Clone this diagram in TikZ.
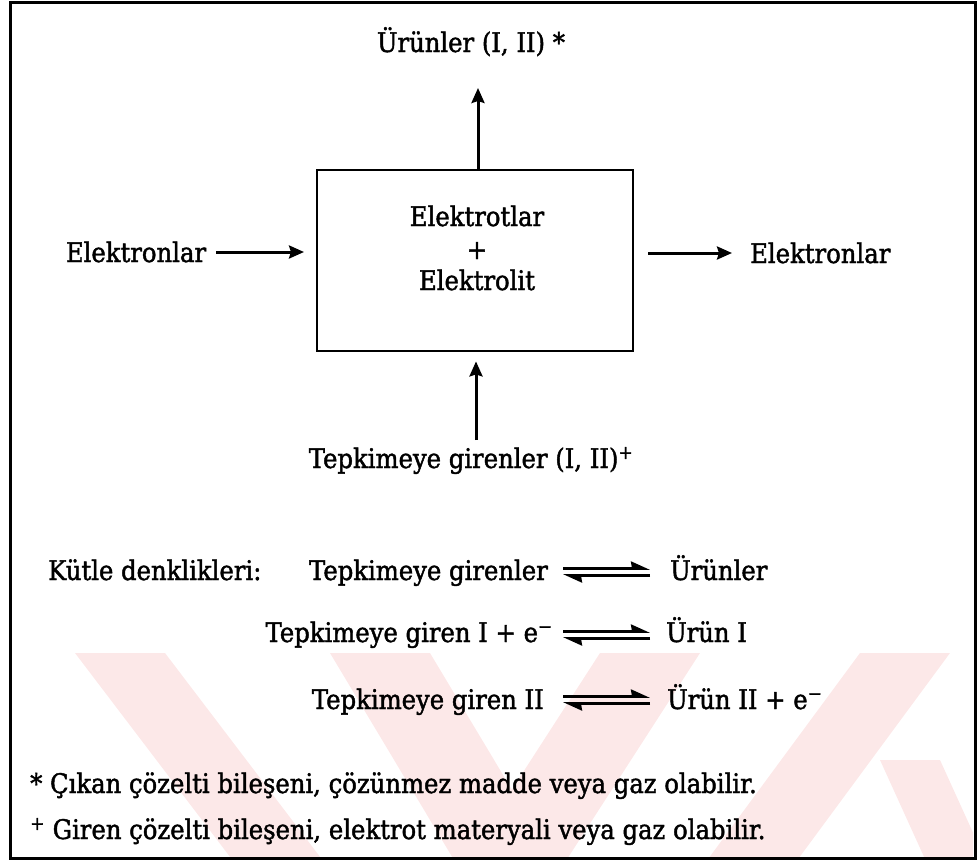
\documentclass[tikz,border=0pt]{standalone}
\usepackage{fontspec}
\setmainfont{DejaVu Serif}[FakeStretch=0.9,FakeBold=1.6]
\usetikzlibrary{arrows.meta}
\definecolor{wmpink}{RGB}{252,232,232}
\tikzset{
  lbl/.style={inner sep=0pt, font=\fontsize{27}{32}\selectfont},
  flow/.style={line width=3pt, -{Stealth[length=15pt,width=13pt,inset=2pt]}},
  half/.style={line width=2.6pt, -{Stealth[left,length=16pt,width=14pt,inset=1pt]}},
  blockbox/.style={draw, line width=2.8pt, minimum width=316pt, minimum height=181pt, inner sep=0pt},
  frame/.style={draw, line width=3pt}
}
\begin{document}
\begin{tikzpicture}[x=1pt,y=-1pt]
\useasboundingbox (0,0) rectangle (978,865);
% watermark
\begin{scope}
\clip (12,653) rectangle (973,857);
\fill[wmpink] (75,653) -- (165,653) -- (330,870) -- (240,870) -- cycle;
\fill[wmpink] (330,653) -- (430,653) -- (560,870) -- (460,870) -- cycle;
\fill[wmpink] (600,653) -- (700,653) -- (560,870) -- (460,870) -- cycle;
\fill[wmpink] (860,653) -- (950,653) -- (790,870) -- (700,870) -- cycle;
\fill[wmpink] (880,760) -- (940,760) -- (990,870) -- (930,870) -- cycle;
\end{scope}
% outer frame
\node[frame, minimum width=965pt, minimum height=856pt, inner sep=0pt] (frm) at (492.5,430.5) {};
% central block
\node[blockbox] (box) at (475,260.5) {};
\node[lbl, anchor=base] (bt1) at (477,226) {Elektrotlar};
\node[lbl, anchor=base] (bt2) at (477,259) {+};
\node[lbl, anchor=base] (bt3) at (477,290) {Elektrolit};
% top
\node[lbl, anchor=base] (urun) at (471,52) {Ürünler (I, II) *};
\coordinate (utip) at (478,88);
\draw[flow] (box.north -| utip) -- (utip);
% left
\node[lbl, anchor=base] (eleft) at (136,262) {Elektronlar};
\coordinate (ltip) at (304,252);
\draw[flow] (eleft.east |- ltip) ++(10pt,0) -- (ltip);
% right
\node[lbl, anchor=base west] (eright) at (750,263) {Elektronlar};
\coordinate (rstart) at (648,253);
\draw[flow] (rstart) -- ([xshift=-18pt]eright.west |- rstart);
% bottom
\node[lbl, anchor=base] (tepk) at (471,468) {Tepkimeye girenler (I, II)\textsuperscript{+}};
\coordinate (bstart) at (476,440);
\draw[flow] (bstart) -- ([yshift=-9pt]box.south -| bstart);
% mass balances
\node[lbl, anchor=base west] (kutle) at (48,580) {Kütle denklikleri:};
\node[lbl, anchor=base east] (r1l) at (548,580) {Tepkimeye girenler};
\node[lbl, anchor=base west] (r1r) at (670,580) {Ürünler};
\node[lbl, anchor=base east] (r2l) at (553,642) {Tepkimeye giren I + e\textsuperscript{−}};
\node[lbl, anchor=base west] (r2r) at (666,642) {Ürün I};
\node[lbl, anchor=base east] (r3l) at (544,709) {Tepkimeye giren II};
\node[lbl, anchor=base west] (r3r) at (667,709) {Ürün II + e\textsuperscript{−}};
\foreach \r/\y in {1/572,2/635,3/700}{
  \coordinate (qa\r) at (563,\y);
  \coordinate (qb\r) at (650,\y);
  \draw[half] ([yshift=3.5pt]qa\r) -- ([yshift=3.5pt]qb\r);
  \draw[half] ([yshift=-3.5pt]qb\r) -- ([yshift=-3.5pt]qa\r);
}
% footnotes
\node[lbl, anchor=base west] (fn1) at (30,793) {* Çıkan çözelti bileşeni, çözünmez madde veya gaz olabilir.};
\node[lbl, anchor=base west] (fn2) at (30,839) {\textsuperscript{+} Giren çözelti bileşeni, elektrot materyali veya gaz olabilir.};
\end{tikzpicture}
\end{document}
